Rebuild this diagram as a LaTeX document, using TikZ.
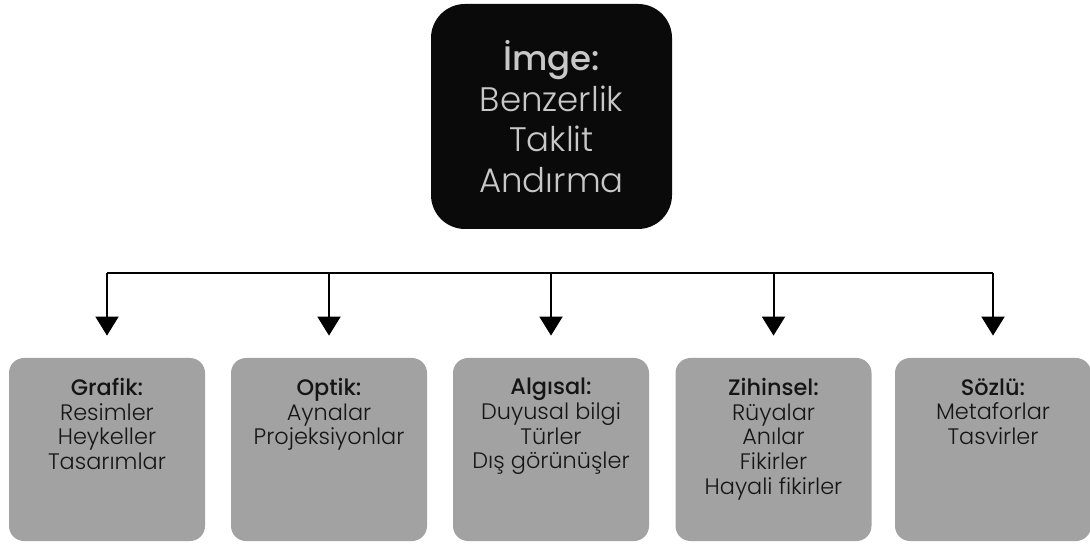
\documentclass[tikz,border=0pt]{standalone}
\usepackage{fontspec}
\setmainfont{Poppins}[UprightFont=* Light, BoldFont=* Medium]
\usetikzlibrary{arrows.meta}
\definecolor{topblack}{HTML}{0A0A0A}
\definecolor{toptext}{HTML}{C8C8C8}
\definecolor{boxgray}{HTML}{A2A2A2}
\definecolor{boxtext}{HTML}{151515}

\begin{document}
\begin{tikzpicture}[x=0.5pt,y=-0.5pt]

    \tikzset{topstyle/.style={fill=topblack,rounded corners=17pt,minimum width=120.5pt,minimum height=112.5pt,inner sep=0pt,text=toptext,align=center,font=\fontsize{17}{20.3}\selectfont}}
    \tikzset{boxstyle/.style={fill=boxgray,rounded corners=7.5pt,minimum width=98pt,minimum height=91.5pt,inner sep=0pt}}
    \tikzset{textstyle/.style={anchor=north,inner sep=0pt,align=center,text=boxtext,font=\fontsize{11.2}{12.3}\selectfont}}

    \useasboundingbox (0,0) rectangle (1090,544);

    \node[topstyle] (top) at (551.5,116.5) {\textbf{İmge:}\\Benzerlik\\Taklit\\Andırma};

    \node[boxstyle] (b1) at (107,449.5) {};
    \node[boxstyle] (b2) at (329,449.5) {};
    \node[boxstyle] (b3) at (551,449.5) {};
    \node[boxstyle] (b4) at (773.5,449.5) {};
    \node[boxstyle] (b5) at (993,449.5) {};

    \node[textstyle] (t1) at (107,378) {\textbf{Grafik:}\\Resimler\\Heykeller\\Tasarımlar};
    \node[textstyle] (t2) at (329,378) {\textbf{Optik:}\\Aynalar\\Projeksiyonlar};
    \node[textstyle] (t3) at (551,378) {\textbf{Algısal:}\\Duyusal bilgi\\Türler\\Dış görünüşler};
    \node[textstyle] (t4) at (773.5,378) {\textbf{Zihinsel:}\\Rüyalar\\Anılar\\Fikirler\\Hayali fikirler};
    \node[textstyle] (t5) at (993,378) {\textbf{Sözlü:}\\Metaforlar\\Tasvirler};

    \coordinate (h1) at (107,273);
    \coordinate (h2) at (329,273);
    \coordinate (h3) at (551,273);
    \coordinate (h4) at (773.5,273);
    \coordinate (h5) at (993,273);

    \begin{scope}[line width=1pt,every path/.style={-{Triangle[width=11.5pt,length=9.5pt]},shorten >=11pt}]
        \draw (h1) -- (b1);
        \draw (h2) -- (b2);
        \draw (h3) -- (b3);
        \draw (h4) -- (b4);
        \draw (h5) -- (b5);
    \end{scope}

    \draw[line width=1pt] (h1) -- (h5);

\end{tikzpicture}
\end{document}
